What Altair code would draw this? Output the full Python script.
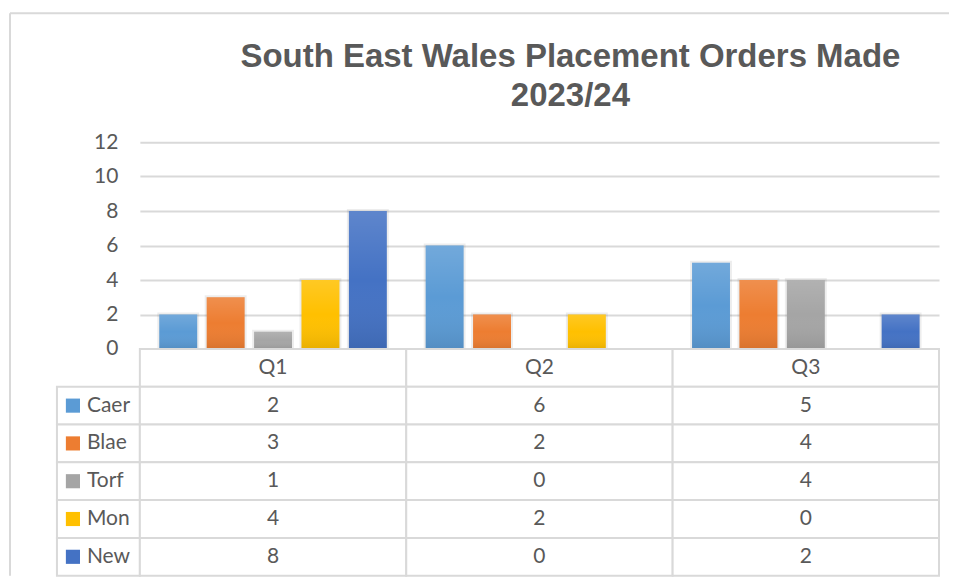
import altair as alt
import pandas as pd

TITLE_LINES = ["South East Wales Placement Orders Made", "2023/24"]
QUARTERS = ["Q1", "Q2", "Q3"]
SERIES = ["Caer", "Blae", "Torf", "Mon", "New"]
COLORS = ["#5B9BD5", "#ED7D31", "#A5A5A5", "#FFC000", "#4472C4"]
CAER = [2, 6, 5]
BLAE = [3, 2, 4]
TORF = [1, 0, 4]
MON = [4, 2, 0]
NEW = [8, 0, 2]
Y_TICKS = [0, 2, 4, 6, 8, 10, 12]

VALUES = {"Caer": CAER, "Blae": BLAE, "Torf": TORF, "Mon": MON, "New": NEW}
rows = []
for s in SERIES:
    for q, v in zip(QUARTERS, VALUES[s]):
        rows.append({"quarter": q, "series": s, "row": s, "value": v})
df = pd.DataFrame(rows)
hdr = pd.DataFrame({"quarter": QUARTERS, "row": ["hdr"] * len(QUARTERS)})
lab = pd.DataFrame({"series": SERIES, "row": SERIES})
one = pd.DataFrame({"k": [0]})

W, H_PLOT, H_TAB = 800, 207, 227
GRID = "#D9D9D9"
TEXT = "#595959"
FONT = "Lato"

x_scale = alt.Scale(domain=QUARTERS, paddingInner=0, paddingOuter=0)
color_scale = alt.Scale(domain=SERIES, range=COLORS)

base = alt.Chart(df).encode(
    x=alt.X("quarter:N", scale=x_scale, axis=None),
    xOffset=alt.XOffset("series:N", scale=alt.Scale(domain=SERIES, paddingInner=0.2, paddingOuter=0.41)),
    y=alt.Y(
        "value:Q",
        scale=alt.Scale(domain=[0, 12]),
        axis=alt.Axis(
            values=Y_TICKS, grid=True, gridColor=GRID, gridWidth=2, domain=False, ticks=False,
            labelFont=FONT, labelFontSize=21, labelColor=TEXT, labelPadding=22, title=None,
        ),
    ),
)
shadow = base.transform_filter("datum.value > 0").mark_bar(
    fill="rgba(0,0,0,0.05)", stroke="rgba(0,0,0,0.07)", strokeWidth=4
)
bars = base.mark_bar().encode(color=alt.Color("series:N", scale=color_scale, legend=None))
shine = base.mark_bar(
    fill=alt.Gradient(
        gradient="linear", x1=0, x2=0, y1=0, y2=1,
        stops=[
            alt.GradientStop(offset=0, color="rgba(255,255,255,0.14)"),
            alt.GradientStop(offset=0.5, color="rgba(255,255,255,0)"),
            alt.GradientStop(offset=1, color="rgba(0,0,0,0.09)"),
        ],
    )
)

frame_top = alt.Chart(one).mark_rule(color=GRID, strokeWidth=2).encode(
    x=alt.value(-130), x2=alt.value(810), y=alt.value(-129)
)
frame_left = alt.Chart(one).mark_rule(color=GRID, strokeWidth=2).encode(
    x=alt.value(-130), y=alt.value(-129), y2=alt.value(H_PLOT + H_TAB)
)
title = alt.Chart(one).mark_text(
    text=TITLE_LINES, font="Liberation Sans", fontSize=33, fontWeight="bold", color=TEXT,
    align="center", baseline="alphabetic", lineHeight=39,
).encode(x=alt.value(431), y=alt.value(-75))

top = alt.layer(frame_top, frame_left, shadow, bars, shine, title).properties(width=W, height=H_PLOT)

y_tab = alt.Y("row:N", scale=alt.Scale(domain=["hdr"] + SERIES, paddingInner=0, paddingOuter=0), axis=None)
x_tab = alt.X("quarter:N", scale=x_scale, axis=None)
cell = dict(fill="white", stroke=GRID, strokeWidth=2)
txt = dict(font=FONT, fontSize=21, color=TEXT, baseline="middle")

lab_cells = alt.Chart(lab).mark_rect(**cell).encode(x=alt.value(-83), x2=alt.value(0), y=y_tab)
hdr_cells = alt.Chart(hdr).mark_rect(**cell).encode(x=x_tab, y=y_tab)
val_cells = alt.Chart(df).mark_rect(**cell).encode(x=x_tab, y=y_tab)
hdr_text = alt.Chart(hdr).mark_text(**txt).encode(x=x_tab, y=y_tab, text="quarter:N")
val_text = alt.Chart(df).mark_text(**txt).encode(x=x_tab, y=y_tab, text="value:Q")
lab_sq = alt.Chart(lab).mark_square(size=200, opacity=1).encode(
    x=alt.value(-67), y=y_tab, color=alt.Color("series:N", scale=color_scale, legend=None)
)
lab_text = alt.Chart(lab).mark_text(align="left", **txt).encode(x=alt.value(-53), y=y_tab, text="series:N")

bottom = alt.layer(lab_cells, hdr_cells, val_cells, hdr_text, val_text, lab_sq, lab_text).properties(
    width=W, height=H_TAB
)

chart = (
    alt.vconcat(top, bottom, spacing=0, bounds="flush")
    .resolve_scale(y="independent")
    .properties(padding={"left": 0, "top": 3, "right": 0, "bottom": 0})
    .configure_view(stroke="transparent")
)

chart.save("out.html", embed_options={"renderer": "svg", "actions": False})
